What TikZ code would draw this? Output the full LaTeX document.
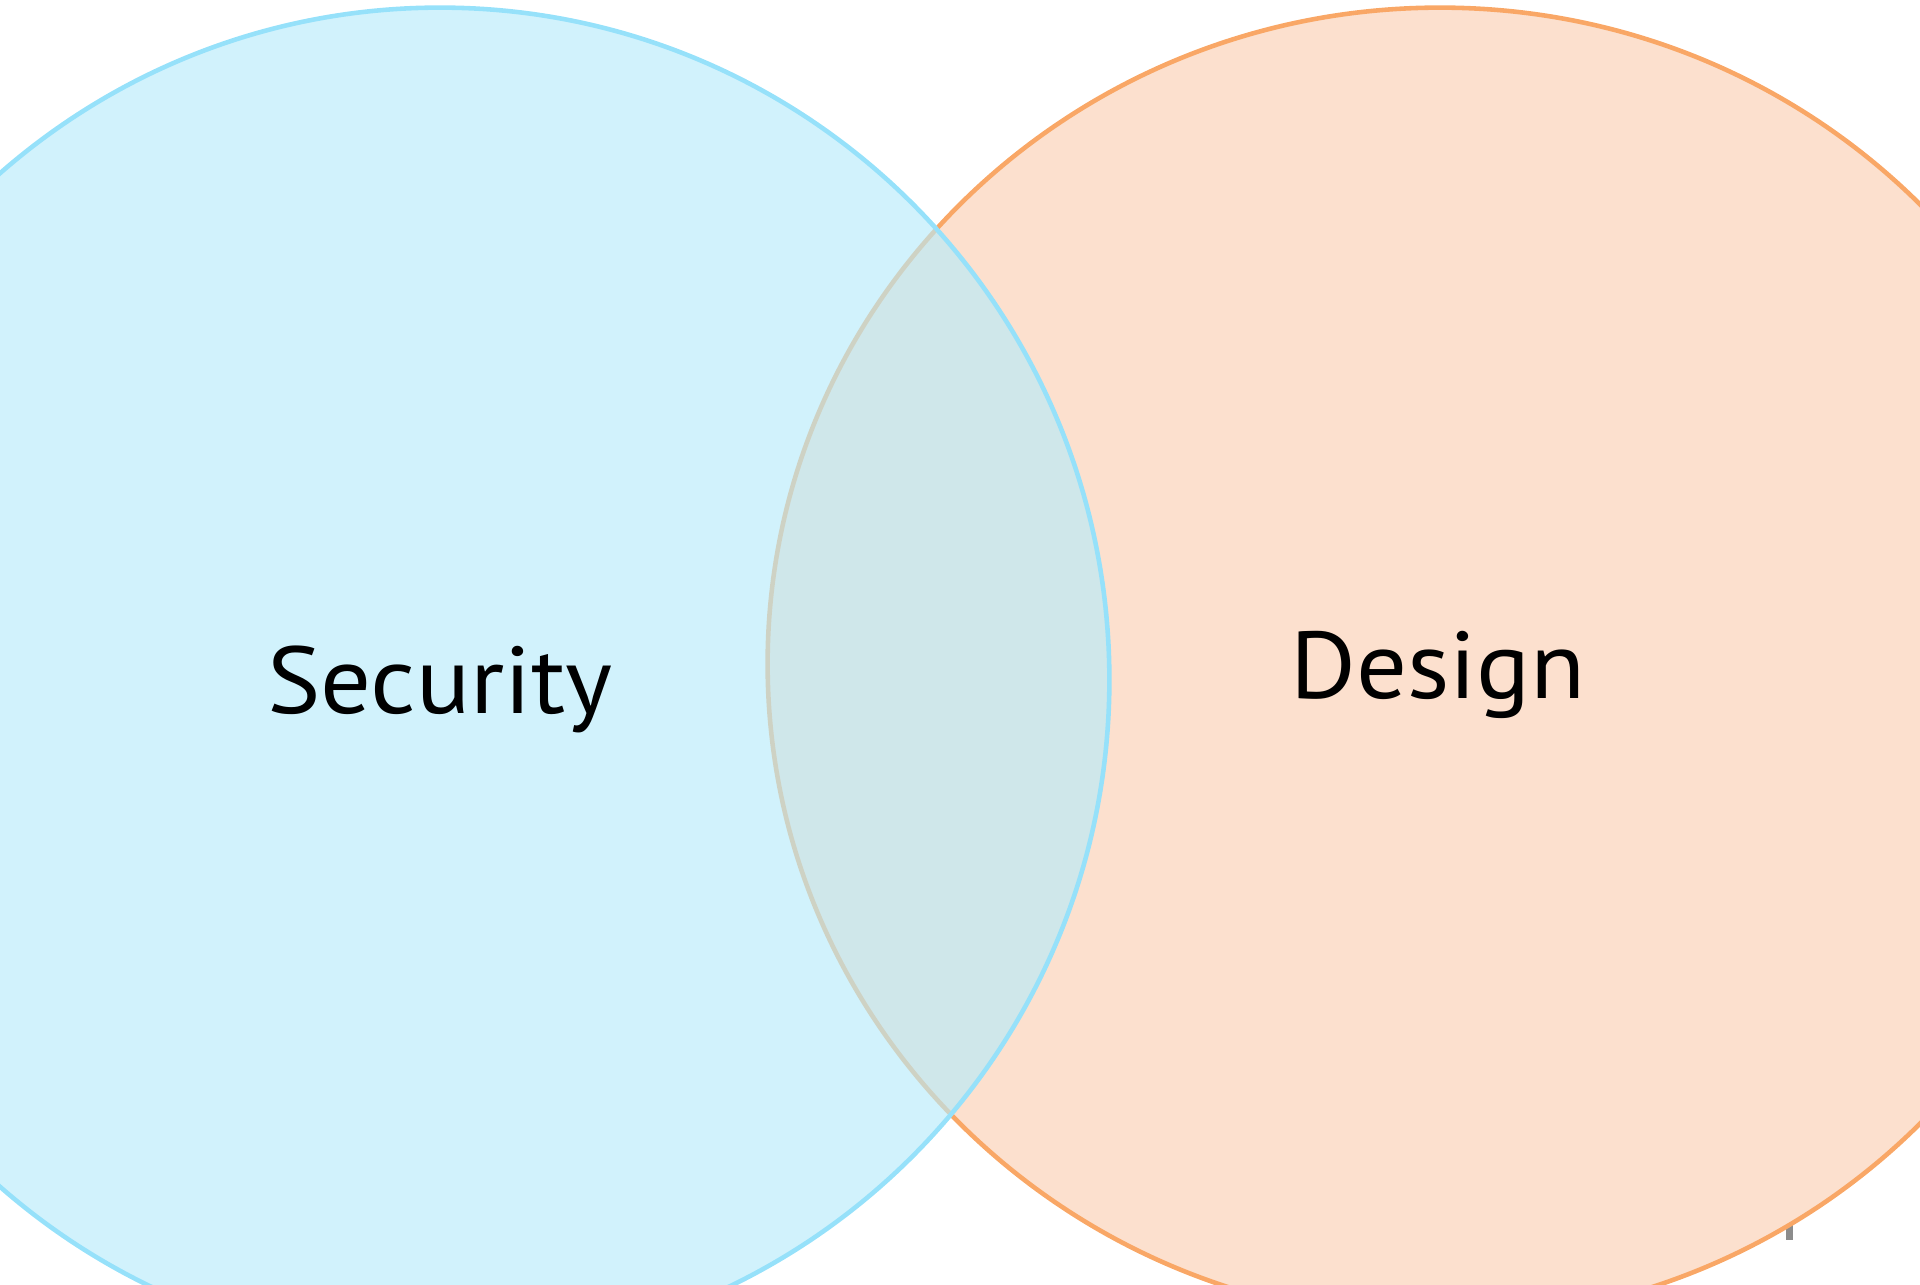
\documentclass[tikz,border=0pt]{standalone}
\usepackage{fontspec}
\setmainfont[FakeStretch=1.06]{PT Sans}
\usetikzlibrary{shapes.geometric}
\definecolor{secfill}{RGB}{183,235,250}
\definecolor{secline}{RGB}{150,225,250}
\definecolor{desfill}{RGB}{252,224,206}
\definecolor{desline}{RGB}{249,167,102}
\definecolor{tick}{RGB}{140,140,140}
\begin{document}
\begin{tikzpicture}[x=0.01cm,y=-0.01cm,
  setshape/.style={ellipse, inner sep=0pt, line width=1.3pt},
  setlabel/.style={anchor=base, font=\fontsize{27}{32}\selectfont, text=black}]
\useasboundingbox (0,0) rectangle (1920,1285);
\clip (0,0) rectangle (1920,1285);
% small tick below the right set
\fill[tick] (1786,1212) rectangle (1793,1240);
% the two sets
\node[setshape, minimum width=13.44cm, minimum height=13.12cm,
      draw=desline, fill=desfill] (design) at (1440,664) {};
\node[setshape, minimum width=13.38cm, minimum height=13.44cm,
      draw=secline, fill=secfill, fill opacity=0.64] (security) at (440,680) {};
% labels
\node[setlabel] (seclabel) at (440,713) {Security};
\node[setlabel] (deslabel) at (1438,698) {Design};
\end{tikzpicture}
\end{document}
